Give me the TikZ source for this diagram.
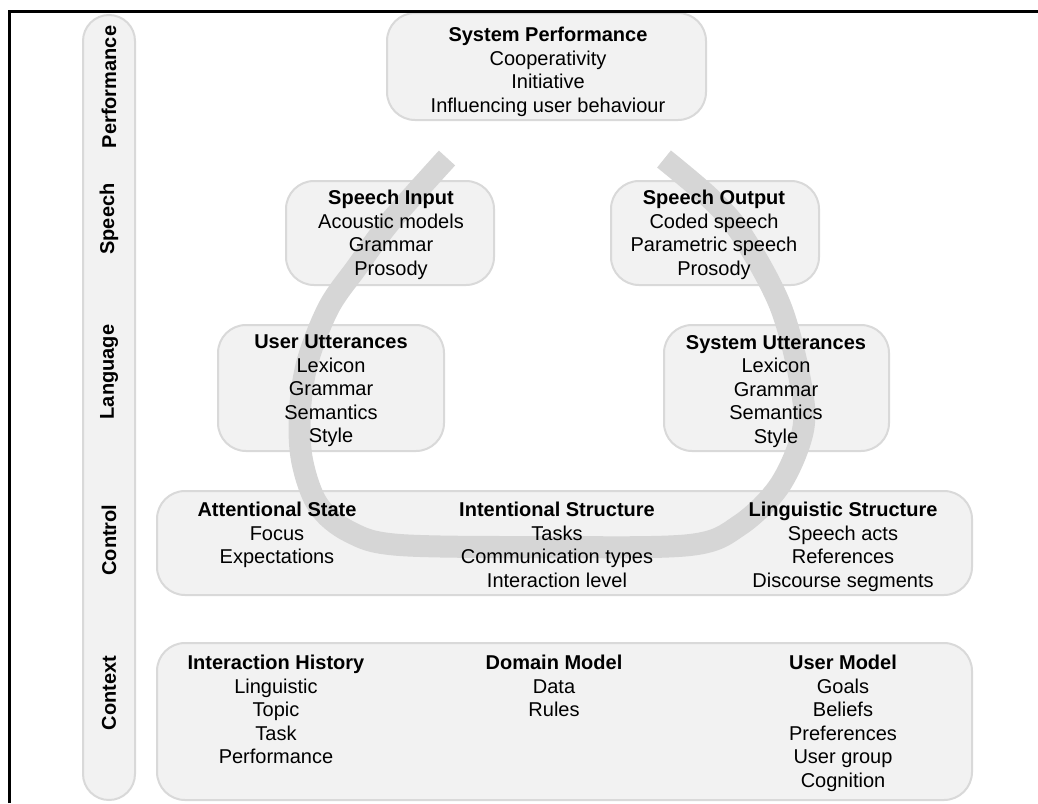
\documentclass[tikz,border=0pt]{standalone}
\usepackage{fontspec}
\setmainfont{Liberation Sans}
\usetikzlibrary{positioning}
\definecolor{boxfill}{HTML}{F2F2F2}
\definecolor{boxline}{HTML}{D9D9D9}
\definecolor{bandgray}{HTML}{D6D6D6}

\begin{document}
\begin{tikzpicture}[x=1pt, y=-1pt,
    box/.style={draw=boxline, fill=boxfill, line width=2pt, rounded corners=28pt, inner sep=0pt},
    txt/.style={anchor=north, align=center, inner sep=0pt, font=\fontsize{20}{23.5}\selectfont},
    lbl/.style={rotate=90, inner sep=0pt, font=\fontsize{20}{24}\selectfont\bfseries},
    band/.style={draw=bandgray, line width=22pt, line cap=butt, line join=round}]
    \useasboundingbox (0,0) rectangle (1038,803);

    % layer bar on the left
    \node[box, rounded corners=26pt, minimum width=52pt, minimum height=785pt] (bar) at (109,407.5) {};
    \node[lbl] (l-perf) at (109,87)  {Performance};
    \node[lbl] (l-sp)   at (109,219) {Speech};
    \node[lbl] (l-lang) at (109,372) {Language};
    \node[lbl] (l-ctrl) at (109,540) {Control};
    \node[lbl] (l-ctx)  at (109,693) {Context};

    % boxes
    \node[box, minimum width=319pt, minimum height=107pt] (perf)  at (546.5,66.5) {};
    \node[box, minimum width=208pt, minimum height=104pt] (spin)  at (390,233)    {};
    \node[box, minimum width=208pt, minimum height=104pt] (spout) at (715,233)    {};
    \node[box, minimum width=226pt, minimum height=126pt] (usr)   at (331,388)    {};
    \node[box, minimum width=225pt, minimum height=126pt] (sys)   at (776.5,388)  {};
    \node[box, minimum width=815pt, minimum height=104pt] (ctrl)  at (564.5,543)  {};
    \node[box, minimum width=815pt, minimum height=157pt] (ctx)   at (564.5,721.5) {};

    % the loop through the layers
    \draw[band] plot[smooth, tension=0.55] coordinates {(447,158) (390,222) (357,267) (329,307) (308,360) (300,410) (302,460) (318,505) (350,532) (400,545) (550,547) (690,545) (740,525) (780,485) (803,430) (800,380) (780,305) (742,235) (710,198) (664,159)};

    % texts
    \node[txt] (perf-t)  at (548,27)  {\textbf{System Performance}\\Cooperativity\\Initiative\\Influencing user behaviour};
    \node[txt] (spin-t)  at (391,190) {\textbf{Speech Input}\\Acoustic models\\Grammar\\Prosody};
    \node[txt] (spout-t) at (714,190) {\textbf{Speech Output}\\Coded speech\\Parametric speech\\Prosody};
    \node[txt] (usr-t)   at (331,335) {\textbf{User Utterances}\\Lexicon\\Grammar\\Semantics\\Style};
    \node[txt] (sys-t)   at (776,335) {\textbf{System Utterances}\\Lexicon\\Grammar\\Semantics\\Style};
    \node[txt] (att-t)   at (277,502) {\textbf{Attentional State}\\Focus\\Expectations};
    \node[txt] (int-t)   at (557,502) {\textbf{Intentional Structure}\\Tasks\\Communication types\\Interaction level};
    \node[txt] (ling-t)  at (843,502) {\textbf{Linguistic Structure}\\Speech acts\\References\\Discourse segments};
    \node[txt] (hist-t)  at (276,655) {\textbf{Interaction History}\\Linguistic\\Topic\\Task\\Performance};
    \node[txt] (dom-t)   at (554,655) {\textbf{Domain Model}\\Data\\Rules};
    \node[txt] (um-t)    at (843,655) {\textbf{User Model}\\Goals\\Beliefs\\Preferences\\User group\\Cognition};

    % frame
    \draw[line width=3pt] (9,803) -- (9,11) -- (1038,11);
\end{tikzpicture}
\end{document}
